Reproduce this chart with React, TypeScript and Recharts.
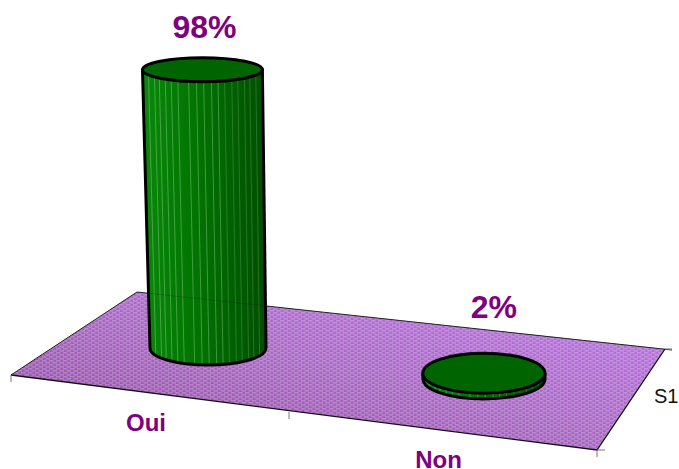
import { BarChart, Bar, XAxis, YAxis, Customized, LabelList } from 'recharts'

const categories = ['Oui', 'Non']
const shares = [98, 2]
const depthLabel = 'S1'

const rows = categories.map((name, i) => ({ name, share: shares[i] }))

const PURPLE = '#800080'
const BASE_X = 208 // the first cylinder sits here, floor slope is measured from it
const FLOOR_SLOPE = 0.112

// Facet edges of a cylinder, as -1..1 across its width
const FACETS = [-0.9, -0.8, -0.72, -0.62, -0.52, -0.41, -0.23, -0.1, 0.02, 0.15, 0.26, 0.37, 0.49, 0.59, 0.7, 0.79, 0.89]

// Offset of the value label from the cylinder top, one per category
const LABEL_SHIFT = [{ dx: 2, dy: -32 }, { dx: 10, dy: -55 }]

// Height of the floor's back edge at a given x
const backEdgeY = (x: number) => 292 + 0.108 * (x - 137)

function Floor() {
  return (
    <g>
      <polygon points="11,375 137,292 665,349 597,450" fill="url(#floorFill)" />
      <polygon points="11,375 137,292 665,349 597,450" fill="url(#floorDots)" />
      <polyline points="11,375 137,292 672,350" fill="none" stroke="#222" strokeWidth={1} />
      <polyline points="665,349 597,450 11,375" fill="none" stroke="#111" strokeWidth={1.3} />
      <path d="M11 375v7M289 412v7M597 450v7M597 450h8M665 349h7" stroke="#777" strokeWidth={1} />
      <text x={654} y={403} fontFamily="Liberation Sans" fontSize={20} fill="#111">{depthLabel}</text>
    </g>
  )
}

function Cylinder({ x, y, width, height }: any) {
  const cx = x + width / 2
  const base = y + height + FLOOR_SLOPE * (cx - BASE_X)
  const top = base - height
  const rx = width / 2 + (cx - BASE_X) * 0.011
  const ry = 17 + (cx - BASE_X) * 0.011
  const topRx = rx + height * 0.007
  const topRy = ry - height * 0.018
  const topCx = cx - height * 0.02
  const left = cx - rx
  const right = cx + rx

  const side = `M${topCx - topRx} ${top} L${left} ${base} A${rx} ${ry} 0 0 0 ${right} ${base} L${topCx + topRx} ${top} Z`
  return (
    <g>
      <path d={side} fill="url(#cylinderSide)" />
      {FACETS.map((t) => {
        const arc = Math.sqrt(1 - t * t)
        return (
          <line
            key={t}
            x1={topCx + t * topRx}
            y1={top + topRy * arc}
            x2={cx + t * rx}
            y2={base + ry * arc}
            stroke="#b8e0b8"
            strokeOpacity={t < 0.3 ? 0.36 : 0.22}
            strokeWidth={1}
          />
        )
      })}
      {backEdgeY(left) > top && (
        <line x1={left} y1={backEdgeY(left)} x2={right} y2={backEdgeY(right)} stroke="#000" strokeOpacity={0.18} strokeWidth={1} />
      )}
      <path d={side} fill="none" stroke="#000" strokeWidth={3} strokeLinejoin="round" />
      <ellipse cx={topCx} cy={top} rx={topRx} ry={topRy} fill="#006400" stroke="#000" strokeWidth={3} />
    </g>
  )
}

function ShareLabel({ x, y, width, height, value, index }: any) {
  const cx = x + width / 2
  const top = y + FLOOR_SLOPE * (cx - BASE_X)
  const topCx = cx - height * 0.02
  const shift = LABEL_SHIFT[index]
  return (
    <text
      x={topCx + shift.dx}
      y={top + shift.dy}
      textAnchor="middle"
      fontFamily="Liberation Sans"
      fontWeight="bold"
      fontSize={32}
      fill={PURPLE}
    >
      {value}%
    </text>
  )
}

// Category names sit between the floor's front ticks, below the edge
function CategoryTick({ x, payload }: any) {
  const labelX = 146 + (x - BASE_X) * 1.06
  const labelY = 431 + (x - BASE_X) * 0.134
  return (
    <text x={labelX} y={labelY} textAnchor="middle" fontFamily="Liberation Sans" fontWeight="bold" fontSize={24} fill={PURPLE}>
      {payload.value}
    </text>
  )
}

export default function App() {
  return (
    <div style={{ position: 'absolute', left: 0, top: 0, width: 679, height: 469, background: '#fff' }}>
      <BarChart width={679} height={469} data={rows} margin={{ top: 64, right: 57, bottom: 91, left: 70 }}>
        <defs>
          <linearGradient id="floorFill" x1="0" y1="1" x2="1" y2="0">
            <stop offset="0%" stopColor="#8f4a9c" />
            <stop offset="50%" stopColor="#a866c4" />
            <stop offset="100%" stopColor="#bc74e8" />
          </linearGradient>
          <pattern id="floorDots" width={7} height={4} patternUnits="userSpaceOnUse">
            <rect x={0} y={0} width={4.5} height={1.6} fill="#fff" fillOpacity={0.24} />
            <rect x={3.5} y={2} width={4.5} height={1.6} fill="#fff" fillOpacity={0.24} />
            <rect x={-3.5} y={2} width={4.5} height={1.6} fill="#fff" fillOpacity={0.24} />
          </pattern>
          <linearGradient id="cylinderSide" x1="0" y1="0" x2="1" y2="0">
            <stop offset="0%" stopColor="#0a880a" />
            <stop offset="45%" stopColor="#007400" />
            <stop offset="100%" stopColor="#004e00" />
          </linearGradient>
        </defs>
        <Customized component={Floor} />
        <XAxis dataKey="name" axisLine={false} tickLine={false} tick={<CategoryTick />} interval={0} />
        <YAxis hide domain={[0, 100]} />
        <Bar dataKey="share" barSize={116} shape={<Cylinder />} isAnimationActive={false}>
          <LabelList dataKey="share" content={<ShareLabel />} />
        </Bar>
      </BarChart>
    </div>
  )
}
